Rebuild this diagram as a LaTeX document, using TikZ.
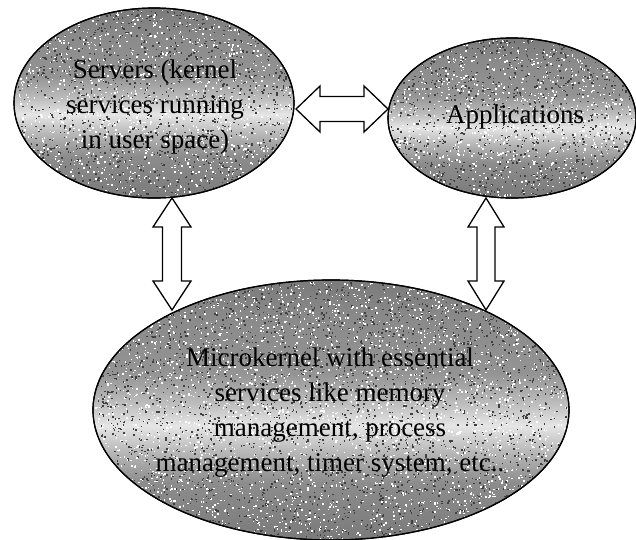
\documentclass[tikz,border=0pt]{standalone}
\usepackage{fontspec}
\IfFontExistsTF{LiberationSerif-Regular.ttf}
  {\newfontfamily\timesfont{LiberationSerif}[Extension=.ttf,UprightFont=*-Regular,BoldFont=*-Bold]}
  {\newfontfamily\timesfont{Latin Modern Roman}}
\usetikzlibrary{shapes.geometric,calc}
\pgfdeclareverticalshading{scanband}{100bp}{%
  color(0bp)=(black!52); color(25bp)=(black!52); color(36bp)=(black!45);
  color(42bp)=(black!28); color(47bp)=(black!10); color(51bp)=(black!25);
  color(57bp)=(black!42); color(68bp)=(black!46); color(75bp)=(black!52);
  color(100bp)=(black!52)}
\tikzset{
  blob/.style={ellipse, draw=black, line width=1.2pt, inner sep=0pt,
    shading=scanband},
  lbl/.style={align=center, inner sep=0pt, text=black,
    font=\timesfont\fontsize{27}{35}\selectfont},
  fat/.style={draw=black, line width=1.3pt, fill=white, line join=miter},
  speck/.style={fill=white, draw=none},
  speckdark/.style={fill=black!75, draw=none}
}
% fat hollow double-headed arrow between two tips
\newcommand\fatarrow[5]{%
  \path (#1) coordinate (fa-a) (#2) coordinate (fa-b);
  \path ($(fa-a)!#3!(fa-b)$) coordinate (fa-p) ($(fa-b)!#3!(fa-a)$) coordinate (fa-q);
  \draw[fat] (fa-a) -- ($(fa-p)!#4!90:(fa-b)$) -- ($(fa-p)!#5!90:(fa-b)$)
    -- ($(fa-q)!#5!-90:(fa-a)$) -- ($(fa-q)!#4!-90:(fa-a)$) -- (fa-b)
    -- ($(fa-q)!#4!90:(fa-a)$) -- ($(fa-q)!#5!90:(fa-a)$)
    -- ($(fa-p)!#5!-90:(fa-b)$) -- ($(fa-p)!#4!-90:(fa-b)$) -- cycle;}
% scan speckle inside an ellipse: center x, center y, rx, ry, count
\newcommand\specks[5]{%
  \begin{scope}
    \clip (#1,#2) ellipse [x radius=#3, y radius=#4];
    \foreach \k in {1,...,#5}{%
      \pgfmathsetmacro\sx{#1+#3*rand}\pgfmathsetmacro\sy{#2+#4*rand}%
      \fill[speck] (\sx,\sy) rectangle ++(1.5,1.5);
      \pgfmathsetmacro\tx{#1+#3*rand}\pgfmathsetmacro\ty{#2+#4*rand}%
      \fill[speckdark] (\tx,\ty) rectangle ++(1.5,1.5);
    }
  \end{scope}}
\begin{document}
\begin{tikzpicture}[x=1pt,y=-1pt]
\pgfmathsetseed{7}
\useasboundingbox (0,0) rectangle (636,539);
\fill[white] (0,0) rectangle (636,539);

\node[blob, minimum width=280pt, minimum height=190pt] (srv) at (154,103) {};
\node[blob, minimum width=248pt, minimum height=160pt] (app) at (512,118) {};
\node[blob, minimum width=476pt, minimum height=260pt] (mk) at (331,410) {};

\specks{154}{103}{139}{94}{1400}
\specks{512}{118}{123}{79}{1100}
\specks{331}{410}{237}{129}{3300}

\draw[line width=1.2pt] (srv.center) ellipse [x radius=140, y radius=95];
\draw[line width=1.2pt] (app.center) ellipse [x radius=124, y radius=80];
\draw[line width=1.2pt] (mk.center) ellipse [x radius=238, y radius=130];

\node[lbl] (srvtext) at (155,107) {Servers (kernel\\services running\\in user space)};
\node[lbl, anchor=base] (apptext) at (515,123) {Applications};
\node[lbl] (mktext) at (330,413) {Microkernel with essential\\services like memory\\management, process\\management, timer system, etc..};

\coordinate (h1) at (296,109);
\coordinate (h2) at (388,109);
\coordinate (l1) at (172,198);
\coordinate (l2) at (172,310);
\coordinate (r1) at (486,198);
\coordinate (r2) at (486,310);

\fatarrow{h1}{h2}{24pt}{23pt}{12.5pt}
\fatarrow{l1}{l2}{29pt}{19pt}{9.5pt}
\fatarrow{r1}{r2}{29pt}{18pt}{9pt}
\end{tikzpicture}
\end{document}
